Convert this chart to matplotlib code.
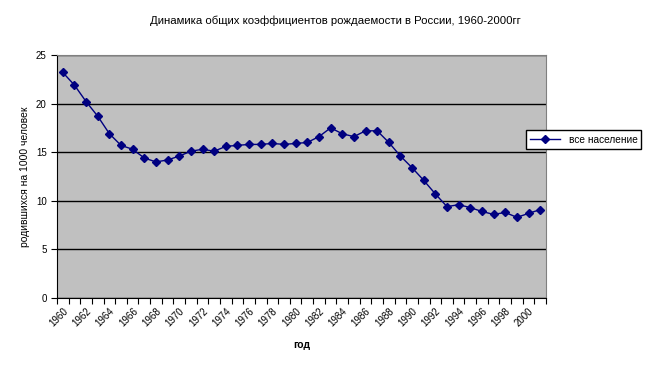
import numpy as np
import matplotlib.pyplot as plt
from matplotlib.ticker import FixedLocator, NullFormatter

plt.rcParams['font.family'] = ['Liberation Sans', 'DejaVu Sans']

years = list(range(1960, 2002))
birth_rate = [23.2, 21.9, 20.2, 18.7, 16.9, 15.7, 15.3, 14.4, 14.0, 14.2,
              14.6, 15.1, 15.3, 15.1, 15.6, 15.7, 15.8, 15.8, 15.9, 15.8,
              15.9, 16.0, 16.6, 17.5, 16.9, 16.6, 17.2, 17.2, 16.0, 14.6,
              13.4, 12.1, 10.7, 9.4, 9.6, 9.3, 8.9, 8.6, 8.8, 8.3,
              8.7, 9.1]
series_name = 'все население'

fig = plt.figure(figsize=(6.72, 3.69), dpi=100)
ax = fig.add_axes([0.0848, 0.1924, 0.7277, 0.6586])
ax.set_facecolor('#C0C0C0')

x = np.arange(len(years))
ax.plot(x, birth_rate, color='#000080', lw=1, marker='D', ms=4.5,
        label=series_name, zorder=3)

ax.set_xlim(-0.5, len(years) - 0.5)
ax.set_ylim(0, 25)
ax.set_yticks(range(0, 26, 5))
ax.yaxis.grid(True, color='black', lw=1)
ax.set_axisbelow(True)

# category axis: ticks between categories, labels every second year
ax.xaxis.set_major_locator(FixedLocator(np.arange(-0.5, len(years), 1)))
ax.xaxis.set_major_formatter(NullFormatter())
ax.xaxis.set_minor_locator(FixedLocator(x[::2]))
ax.set_xticklabels([str(y) for y in years[::2]], minor=True,
                   rotation=45, ha='right', rotation_mode='anchor')
ax.tick_params(axis='x', which='minor', length=0, pad=6, labelsize=7)
ax.tick_params(axis='x', which='major', length=4, direction='out')
ax.tick_params(axis='y', length=4, labelsize=7)

for s in ['top', 'right']:
    ax.spines[s].set_color('#808080')
for s in ['left', 'bottom']:
    ax.spines[s].set_color('black')

ax.set_xlabel('год', fontsize=7.5, fontweight='bold', labelpad=8)
ax.set_ylabel('родившихся на 1000 человек', fontsize=7.5)
ax.yaxis.set_label_coords(-0.055, 0.5)
fig.text(0.4985, 0.945, 'Динамика общих коэффициентов рождаемости в России, 1960-2000гг',
         ha='center', va='center', fontsize=8.2)

leg = ax.legend(loc='center left', bbox_to_anchor=(0.959, 0.652), fontsize=7.3,
                frameon=True, fancybox=False, edgecolor='black', framealpha=1,
                borderpad=0.4, borderaxespad=0, handlelength=3)
leg.get_frame().set_linewidth(1)
leg.set_zorder(10)

fig.savefig('out.png', dpi=100)
